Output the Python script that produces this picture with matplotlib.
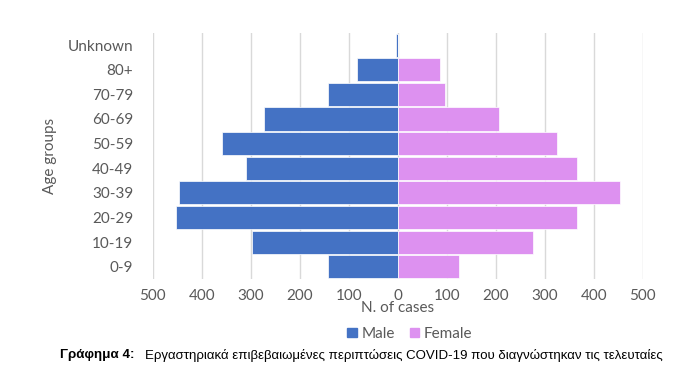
'''Age pyramid of confirmed COVID-19 cases (male vs female)'''

import numpy as np
import matplotlib as ma
ma.use('agg')
import matplotlib.pyplot as plt
from matplotlib.patches import Patch

groups = ['0-9', '10-19', '20-29', '30-39', '40-49', '50-59',
          '60-69', '70-79', '80+', 'Unknown']
male = [143, 298, 452, 447, 310, 358, 273, 143, 82, 3]
female = [125, 277, 367, 453, 367, 325, 207, 96, 87, 0]
ticks = [-500, -400, -300, -200, -100, 0, 100, 200, 300, 400, 500]

MALE_C = '#4472C4'
FEMALE_C = '#DD91F0'
GREY = '#595959'
FONT = 'Lato'

def main():
    fig = plt.figure(figsize=(6.91, 3.73), dpi=100)
    ax = fig.add_axes([0.221, 0.252, 0.709, 0.66])
    y = np.arange(len(groups))
    ax.barh(y, -np.array(male), height=0.94, color=MALE_C,
            edgecolor='white', linewidth=0.5, zorder=3)
    ax.barh(y, female, height=0.94, color=FEMALE_C,
            edgecolor='white', linewidth=0.5, zorder=3)
    ax.set_xlim(-500, 500)
    ax.set_ylim(-0.5, 9.5)
    ax.set_xticks(ticks)
    ax.set_xticklabels([str(abs(t)) for t in ticks])
    ax.set_yticks(y)
    ax.set_yticklabels(groups)
    ax.grid(axis='x', color='#d9d9d9', linewidth=1, zorder=0)
    for s in ax.spines.values():
        s.set_visible(False)
    ax.tick_params(length=0, labelsize=11, labelcolor=GREY)
    ax.tick_params(axis='y', pad=14)
    ax.tick_params(axis='x', pad=7)
    for lab in ax.get_xticklabels() + ax.get_yticklabels():
        lab.set_family(FONT)
    ax.set_xlabel('N. of cases', fontsize=11, color=GREY, family=FONT,
                  labelpad=-1)
    ax.set_ylabel('Age groups', fontsize=11, color=GREY, family=FONT,
                  labelpad=8)

    handles = [Patch(color=MALE_C, label='Male'),
               Patch(color=FEMALE_C, label='Female')]
    fig.legend(handles=handles, loc='center', bbox_to_anchor=(0.593, 0.105),
               ncol=2, frameon=False, handlelength=0.6, handleheight=0.6,
               handletextpad=0.3, columnspacing=1.0,
               prop={'family': FONT, 'size': 11}, labelcolor=GREY)

    fig.text(0.087, 0.048, 'Γράφημα 4:', fontsize=9.6, fontweight='bold',
             family='Liberation Sans', va='center')
    fig.text(0.21, 0.048,
             'Εργαστηριακά επιβεβαιωμένες περιπτώσεις COVID-19 που διαγνώστηκαν τις τελευταίες',
             fontsize=9.5, family='Liberation Sans', va='center')
    fig.savefig('out.png', dpi=100)

if __name__ == "__main__":
    main()
